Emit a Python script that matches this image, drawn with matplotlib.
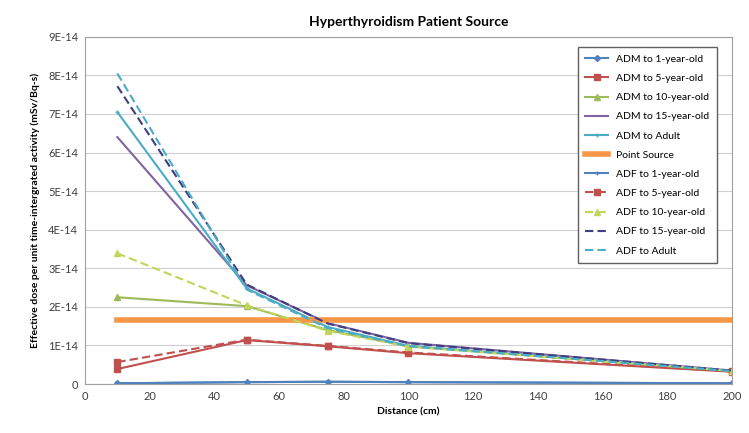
import matplotlib
matplotlib.use("Agg")
from matplotlib import pyplot as plt
from matplotlib.ticker import FuncFormatter, MultipleLocator

plt.rcParams['font.family'] = ['Lato', 'DejaVu Sans']

distance = [10, 50, 75, 100, 200]

adm_1 = [0.02e-14, 0.05e-14, 0.06e-14, 0.05e-14, 0.02e-14]
adm_5 = [0.39e-14, 1.14e-14, 0.98e-14, 0.80e-14, 0.32e-14]
adm_10 = [2.25e-14, 2.02e-14, 1.40e-14, 0.98e-14, 0.34e-14]
adm_15 = [6.40e-14, 2.56e-14, 1.58e-14, 1.07e-14, 0.35e-14]
adm_adult = [7.05e-14, 2.48e-14, 1.48e-14, 0.99e-14, 0.34e-14]
point_x = [10, 200]
point_source = [1.65e-14, 1.65e-14]
adf_1 = [0.02e-14, 0.05e-14, 0.06e-14, 0.05e-14, 0.02e-14]
adf_5 = [0.57e-14, 1.15e-14, 0.99e-14, 0.82e-14, 0.33e-14]
adf_10 = [3.39e-14, 2.04e-14, 1.38e-14, 0.97e-14, 0.34e-14]
adf_15 = [7.72e-14, 2.58e-14, 1.57e-14, 1.06e-14, 0.35e-14]
adf_adult = [8.05e-14, 2.45e-14, 1.45e-14, 0.98e-14, 0.34e-14]

fig = plt.figure(figsize=(7.49, 4.33), dpi=100)
ax = fig.add_axes([0.1135, 0.113, 0.8635, 0.802])

ax.plot(distance, adm_1, color='#4F81BD', marker='D', ms=3, lw=1.5, label='ADM to 1-year-old')
ax.plot(distance, adm_5, color='#C0504D', marker='s', ms=4, lw=1.5, label='ADM to 5-year-old')
ax.plot(distance, adm_10, color='#9BBB59', marker='^', ms=4, lw=1.5, label='ADM to 10-year-old')
ax.plot(distance, adm_15, color='#8064A2', lw=1.5, label='ADM to 15-year-old')
ax.plot(distance, adm_adult, color='#4BACC6', marker='+', ms=3, lw=1.5, label='ADM to Adult')
ax.plot(point_x, point_source, color='#F79646', lw=4, label='Point Source')
ax.plot(distance, adf_1, color='#4F81BD', marker='+', ms=3, lw=1.5, label='ADF to 1-year-old')
ax.plot(distance, adf_5, color='#C0504D', marker='s', ms=4, lw=1.5, ls=(0, (4, 2)), label='ADF to 5-year-old')
ax.plot(distance, adf_10, color='#C3D65A', marker='^', ms=4, lw=1.5, ls=(0, (4, 2)), label='ADF to 10-year-old')
ax.plot(distance, adf_15, color='#3F3F7F', lw=1.5, ls=(0, (4, 2)), label='ADF to 15-year-old')
ax.plot(distance, adf_adult, color='#4BACC6', lw=1.5, ls=(0, (4, 2)), label='ADF to Adult')

ax.set_xlim(0, 200)
ax.set_ylim(0, 9e-14)
ax.xaxis.set_major_locator(MultipleLocator(20))
ax.yaxis.set_major_locator(MultipleLocator(1e-14))
ax.yaxis.set_major_formatter(FuncFormatter(
    lambda v, p: "0" if abs(v) < 1e-20 else "%dE-14" % round(v / 1e-14)))
ax.tick_params(length=0, labelsize=8, colors='#404040', pad=5)
ax.yaxis.grid(True, color='#D0D0D0', lw=0.8)
ax.set_axisbelow(True)
for s in ax.spines.values():
    s.set_color('#A0A0A0')
    s.set_linewidth(0.8)

ax.set_title("Hyperthyroidism Patient Source", fontsize=10, fontweight='bold', pad=8)
ax.set_xlabel("Distance (cm)", fontsize=7.5, fontweight='bold', labelpad=4)
ax.set_ylabel("Effective dose per unit time-intergrated activity (mSv/Bq-s)",
              fontsize=7.5, fontweight='bold', labelpad=6)

leg = ax.legend(loc='upper right', bbox_to_anchor=(0.985, 0.985), fontsize=7.5,
                labelspacing=0.95, handlelength=2.2, borderpad=0.7,
                fancybox=False, framealpha=1)
leg.get_frame().set_edgecolor('#606060')
leg.get_frame().set_linewidth(1.0)

fig.savefig("out.png", dpi=100)
